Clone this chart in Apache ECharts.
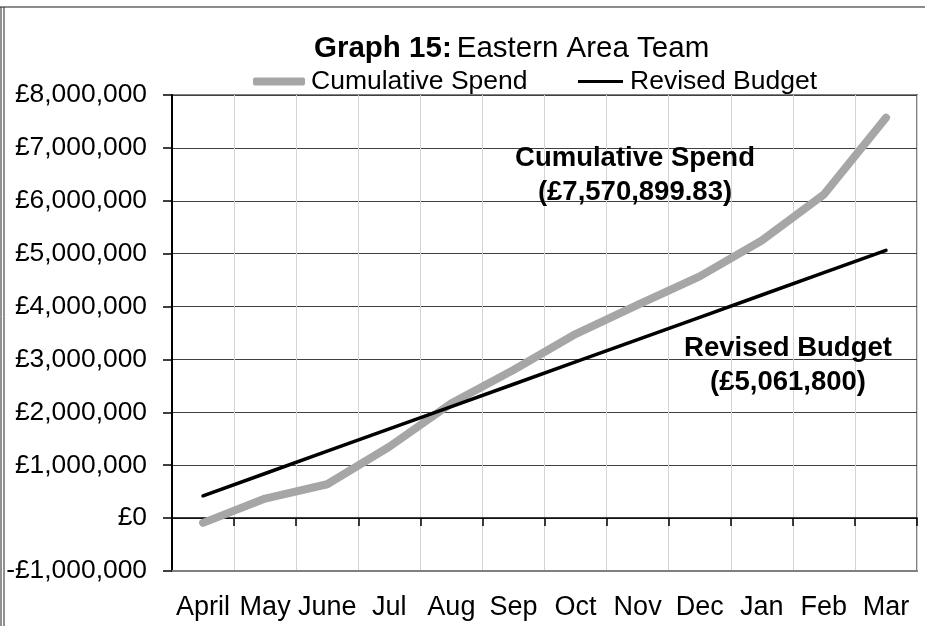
<!DOCTYPE html>
<html><head><meta charset="utf-8">
<script src="https://cdn.jsdelivr.net/npm/echarts@6/dist/echarts.min.js"></script>
<style>html,body{margin:0;padding:0;background:#fff}#c{width:925px;height:626px}</style>
</head><body><div id="c"></div>
<script>
const months = ['April','May','June','Jul','Aug','Sep','Oct','Nov','Dec','Jan','Feb','Mar'];
const cumulativeSpend = [-90000, 370000, 640000, 1350000, 2170000, 2800000, 3480000, 4030000, 4570000, 5250000, 6120000, 7570899.83];
const revisedBudget = [421817, 843633, 1265450, 1687267, 2109083, 2530900, 2952717, 3374533, 3796350, 4218167, 4639983, 5061800];
const yTicks = {min: -1000000, max: 8000000, interval: 1000000};

const FONT = 'Liberation Sans';
function money(v){
  const s = Math.abs(v).toLocaleString('en-GB');
  return (v < 0 ? '-£' : '£') + s;
}
const chart = echarts.init(document.getElementById('c'));
chart.setOption({
  backgroundColor: '#fff',
  animation: false,
  textStyle: {fontFamily: FONT},
  title: {
    text: '{b|Graph 15:} {n|Eastern Area Team}',
    left: 309, top: 29,
    textStyle: {rich: {
      b: {fontFamily: FONT, fontWeight: 'bold', fontSize: 29.5, color: '#000'},
      n: {fontFamily: FONT, fontWeight: 'normal', fontSize: 29.5, color: '#000'}
    }}
  },
  legend: [
    {data: [{name: 'Cumulative Spend', icon: 'roundRect'}], left: 248, top: 63, itemWidth: 52, itemHeight: 8,
     textStyle: {fontFamily: FONT, fontSize: 26.5, color: '#000', padding: [0,0,0,1]}},
    {data: [{name: 'Revised Budget', icon: 'rect'}], left: 573, top: 63, itemWidth: 45, itemHeight: 3,
     textStyle: {fontFamily: FONT, fontSize: 26.5, color: '#000', padding: [0,0,0,2]}}
  ],
  grid: {left: 172, right: 8, top: 95, bottom: 55, show: true, borderColor: '#808080', borderWidth: 2},
  xAxis: [
    {type: 'category', data: months, boundaryGap: true, position: 'bottom',
     axisLine: {onZero: false, lineStyle: {color: '#808080', width: 2}},
     axisTick: {show: false},
     axisLabel: {fontFamily: FONT, fontSize: 27, color: '#000', margin: 23, interval: 0},
     splitLine: {show: true, lineStyle: {color: '#d4d4d4', width: 1}}},
    {type: 'category', data: months, boundaryGap: true, position: 'bottom',
     axisLine: {onZero: true, lineStyle: {color: '#000', width: 1.5}},
     axisTick: {show: true, inside: false, length: 8, lineStyle: {color: '#000', width: 1.5}},
     axisLabel: {show: false}, splitLine: {show: false}}
  ],
  yAxis: {
    type: 'value', min: yTicks.min, max: yTicks.max, interval: yTicks.interval,
    axisLine: {show: true, lineStyle: {color: '#000', width: 2}},
    axisTick: {show: true, length: 9, lineStyle: {color: '#000', width: 1.5}},
    axisLabel: {fontFamily: FONT, fontSize: 26.4, color: '#000', margin: 25, formatter: money},
    splitLine: {show: true, lineStyle: {color: '#404040', width: 1.2}}
  },
  series: [
    {name: 'Cumulative Spend', type: 'line', data: cumulativeSpend, symbol: 'none', xAxisIndex: 0,
     lineStyle: {color: '#a6a6a6', width: 8, cap: 'round', join: 'round'}, itemStyle: {color: '#a6a6a6'}, z: 3},
    {name: 'Revised Budget', type: 'line', data: revisedBudget, symbol: 'none', xAxisIndex: 0,
     lineStyle: {color: '#000', width: 3.5, cap: 'round'}, itemStyle: {color: '#000'}, z: 4}
  ],
  graphic: [
    {type: 'line', shape: {x1: 0, y1: 7, x2: 925, y2: 7}, style: {stroke: '#666', lineWidth: 1.5}},
    {type: 'line', shape: {x1: 1, y1: 7, x2: 1, y2: 626}, style: {stroke: '#222', lineWidth: 1}},
    {type: 'line', shape: {x1: 4, y1: 7, x2: 4, y2: 626}, style: {stroke: '#222', lineWidth: 1}},
    {type: 'text', z: 10, style: {text: 'Cumulative Spend\n(£7,570,899.83)', font: 'bold 27.5px "Liberation Sans"', fill: '#000', textAlign: 'center', lineHeight: 34}, x: 635, y: 141},
    {type: 'text', z: 10, style: {text: 'Revised Budget\n(£5,061,800)', font: 'bold 27.5px "Liberation Sans"', fill: '#000', textAlign: 'center', lineHeight: 34}, x: 788, y: 331}
  ]
});
</script></body></html>
